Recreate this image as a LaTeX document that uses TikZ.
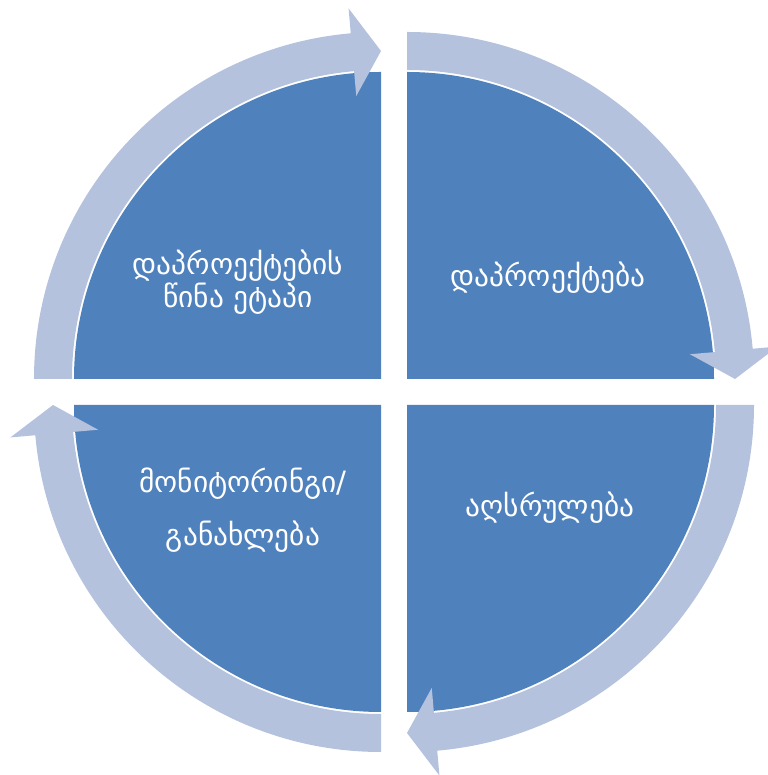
\documentclass[tikz,border=0pt]{standalone}
\usepackage{fontspec}
\newfontfamily\geofont{DejaVu Sans}
\definecolor{settore}{RGB}{79,129,189}
\definecolor{anello}{RGB}{180,194,222}
\begin{document}
\begin{tikzpicture}[x=0.5pt, y=0.5pt,
			settore/.style={fill=settore},
			anello/.style={fill=anello},
			testo/.style={text=white, font=\geofont\fontsize{14.7}{16.5}\selectfont, align=center},
			]
			
			\def\Rs{307}     % raggio dei settori
			\def\Ri{309}     % raggio interno dell'anello
			\def\Re{347}     % raggio esterno dell'anello
			\def\Rm{328}     % linea media (punta della freccia)
			\def\Ra{284}     % ala interna della punta
			\def\Rb{372}     % ala esterna della punta
			
			\useasboundingbox (0,0) rectangle (767,775);
			
			% vertici dei quattro settori
			\coordinate (TR) at (407,396);
			\coordinate (TL) at (381,396);
			\coordinate (BL) at (381,370);
			\coordinate (BR) at (407,370);
			
			%%=== SETTORI ====================================================
			\fill[settore] (TR) -- ++(0:\Rs) arc[start angle=0, end angle=90, radius=\Rs] -- cycle;
			\fill[settore] (TL) -- ++(90:\Rs) arc[start angle=90, end angle=180, radius=\Rs] -- cycle;
			\fill[settore] (BL) -- ++(180:\Rs) arc[start angle=180, end angle=270, radius=\Rs] -- cycle;
			\fill[settore] (BR) -- ++(270:\Rs) arc[start angle=270, end angle=360, radius=\Rs] -- cycle;
			
			%%=== ANELLO CON FRECCE ==========================================
			\foreach \c/\s in {TR/90, TL/180, BL/270, BR/360}{
				\pgfmathsetmacro{\b}{\s-85}
				\pgfmathsetmacro{\t}{\s-90}
				\fill[anello] ([shift={(\s:\Re)}]\c) arc[start angle=\s, end angle=\b, radius=\Re]
					-- ([shift={(\b:\Rb)}]\c) -- ([shift={(\t:\Rm)}]\c) -- ([shift={(\b:\Ra)}]\c)
					-- ([shift={(\b:\Ri)}]\c) arc[start angle=\b, end angle=\s, radius=\Ri] -- cycle;
			}
			
			%%=== TESTI ======================================================
			\node[testo] (prima) at (238,493) {დაპროექტების\\[0pt]წინა ეტაპი};
			\node[testo] (progetto) at (548,497) {დაპროექტება};
			\node[testo] (esecuzione) at (550,267) {აღსრულება};
			\node[testo] (monitor) at (243,265) {მონიტორინგი/\\[10pt]განახლება};
			
		\end{tikzpicture}
\end{document}
